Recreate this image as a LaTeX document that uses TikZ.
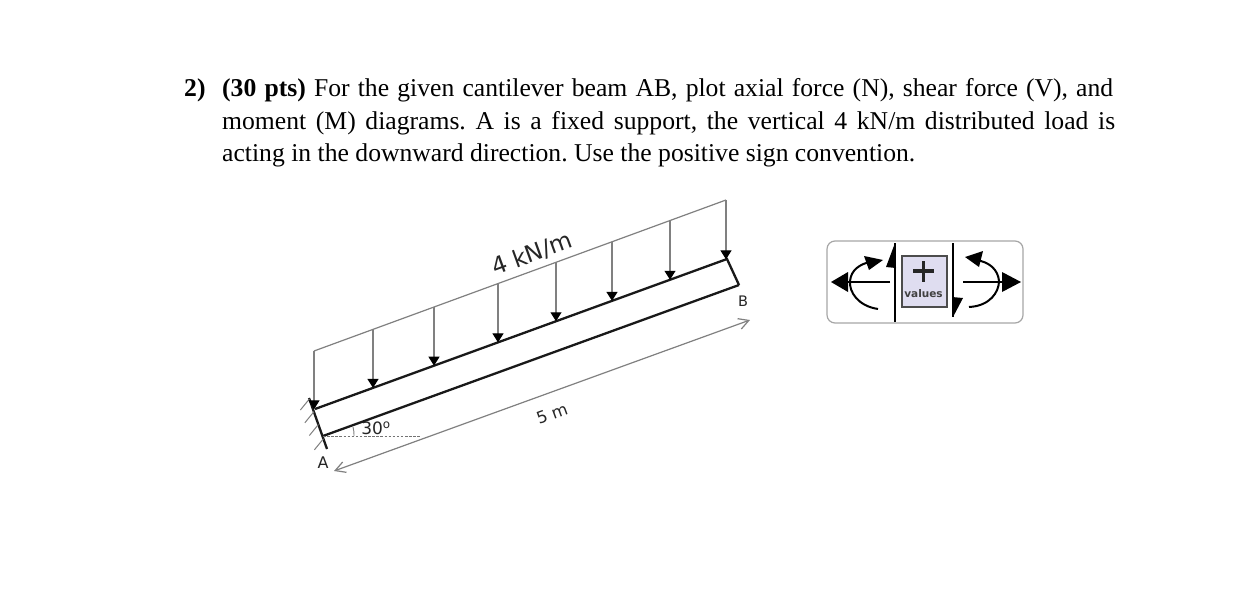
\documentclass[tikz,border=0pt]{standalone}
\usepackage{fontspec}
\setmainfont{Liberation Serif}
\newfontfamily\labfont{DejaVu Sans}
\usetikzlibrary{arrows.meta,calc}
\definecolor{valfill}{HTML}{DFDDF0}
\frenchspacing
\tikzset{
  body/.style={inner sep=0pt,anchor=base west,font=\fontsize{25.65}{30}\selectfont},
  lab/.style={inner sep=0pt,text=black!85,font=\labfont\fontsize{#1}{#1}\selectfont},
  beamline/.style={line width=2.3pt,black!90},
  thinline/.style={line width=1.2pt,black!50},
  loadarrow/.style={thinline,-{Triangle[black,length=9pt,width=11pt]}},
  dimarrow/.style={thinline,{Straight Barb[length=10pt,width=11pt]}-{Straight Barb[length=10pt,width=11pt]}},
  hatch/.style={line width=1pt,black!50},
  icon/.style={line width=2.7pt,black},
}
\begin{document}
\begin{tikzpicture}[x=1pt,y=-1pt]
\useasboundingbox (0,0) rectangle (1252,607);
\fill[white] (0,0) rectangle (1252,607);
% text
\node[body] (t0) at (184,97) {\textbf{2)}};
\node[body] (t1) at (222,97) {\hbox to 891pt{\textbf{(30 pts)} For the given cantilever beam AB, plot axial force (N), shear force (V), and}};
\node[body] (t2) at (222,129) {\hbox to 893pt{moment (M) diagrams. A is a fixed support, the vertical 4 kN/m distributed load is}};
\node[body] (t3) at (222,161) {acting in the downward direction. Use the positive sign convention.};
% beam
\coordinate (TL) at (315,409);
\coordinate (TR) at (727,259);
\coordinate (BR) at (739,285);
\coordinate (BL) at (323,436);
\draw[beamline,line join=miter] (TL) -- (TR) -- (BR);
\draw[beamline] (BL) -- (BR);
% wall
\coordinate (W1) at (309,398);
\coordinate (W2) at (327,449);
\draw[beamline] (W1) -- (W2);
\foreach \t in {0.02,0.27,0.52,0.8}{
  \coordinate (h) at ($(W1)!\t!(W2)$);
  \draw[hatch] (h) -- ++(-9,11);
}
% load
\coordinate (L1) at (314,351);
\coordinate (L2) at (726,200);
\draw[thinline] (L1) -- (L2);
\foreach \x in {314,373,434,498,556,612,670,726}{
  \coordinate (a) at ($(L1)!{(\x-314)/412}!(L2)$);
  \coordinate (b) at ($(TL)!{(\x-315)/412}!(TR)$);
  \draw[loadarrow] (a) -- (a |- b);
}
% dimension
\coordinate (D1) at (334,471);
\coordinate (D2) at (750,320);
\draw[dimarrow] (D1) -- (D2);
% angle
\coordinate (Q) at (421,436);
\draw[line width=1pt,black!55,dash pattern=on 2.5pt off 1.6pt] (BL) -- (Q);
\draw[line width=.9pt,black!50] (354,436) .. controls (354,433) and (354,430) .. (353,427);
\node[lab=17] (ang) at (376,428) {30\textsuperscript{o}};
\node[lab=16] (A) at (323,463) {A};
\node[lab=14.5] (B) at (743,301) {B};
\node[lab=23.5,rotate=20] (q) at (532,254) {4 kN/m};
\node[lab=16.5,rotate=20] (m) at (552,414) {5 m};
% panel
\node[draw=black!35,line width=1.2pt,rounded corners=8pt,minimum width=196pt,minimum height=82pt,inner sep=0pt] (panel) at (925,282) {};
\node[draw=black!70,fill=valfill,line width=1.2pt,minimum width=45pt,minimum height=51pt,inner sep=0pt] (val) at (924.5,281.5) {};
\draw[line width=3.4pt,black!85] (913,271) -- (934,271) (923.5,261) -- (923.5,282);
\node[lab=10.5,text=black!75,font=\labfont\bfseries\fontsize{10.5}{10.5}\selectfont] (vt) at (923.5,294) {values};
% sign convention
\coordinate (LV1) at (895,243); \coordinate (LV2) at (895,322);
\coordinate (RV1) at (953,243); \coordinate (RV2) at (953,317);
\draw[icon] (LV1) -- (LV2);
\draw[icon] (RV1) -- (RV2);
\fill (LV1) -- (896,268) -- (886,267) -- cycle;
\fill (RV2) -- (952,297) -- (963,298) -- cycle;
\coordinate (LH) at (890,282); \coordinate (LT) at (831,282);
\coordinate (RH) at (963,282); \coordinate (RT) at (1021,282);
\draw[line width=1.6pt] (LH) -- (848,282);
\draw[line width=1.6pt] (RH) -- (1004,282);
\fill (LT) -- (848,272) -- (848,292) -- cycle;
\fill (RT) -- (1002,272) -- (1002,292) -- cycle;
\coordinate (LA) at (878,309); \coordinate (LB) at (876,263);
\coordinate (RA) at (969,307); \coordinate (RB) at (972,262);
\draw[line width=2pt] (LA) .. controls (858,306) and (849,292) .. (850,281) .. controls (851,270) and (860,264) .. (870,262);
\fill (883,260) -- (864,256) -- (869,270) -- cycle;
\draw[line width=2pt] (RA) .. controls (990,306) and (999,292) .. (999,281) .. controls (998,270) and (990,262) .. (976,260);
\fill (965,257) -- (983,251) -- (979,267) -- cycle;
\end{tikzpicture}
\end{document}
